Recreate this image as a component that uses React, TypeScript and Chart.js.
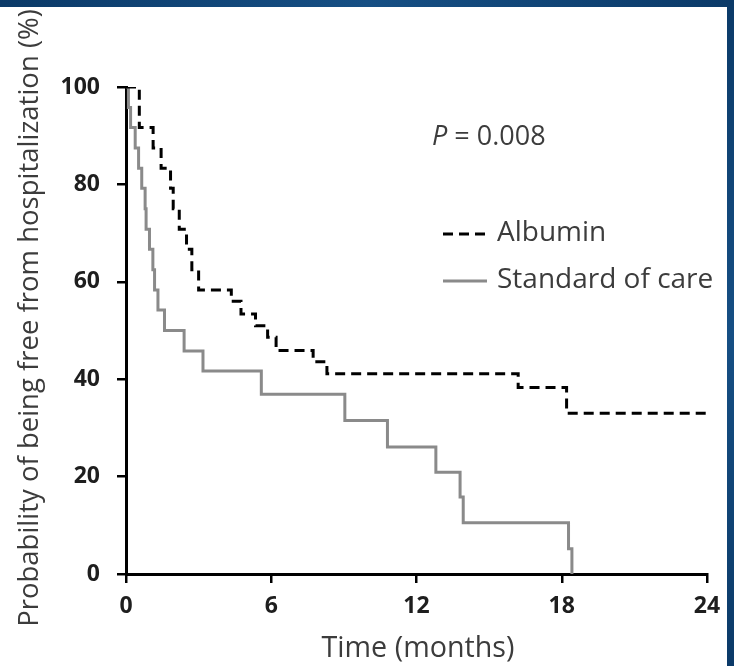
import React, { useEffect, useRef } from "react";
import { Chart, registerables } from "chart.js";

Chart.register(...registerables);

// ---- Data ----
const xTickValues = [0, 6, 12, 18, 24];
const yTickValues = [0, 20, 40, 60, 80, 100];

const albuminTimes = [0, 0.55, 1.12, 1.45, 1.84, 1.95, 2.2, 2.5, 2.72, 3.0, 4.35, 4.75, 5.35, 5.85, 6.2, 7.73, 8.3, 16.2, 18.2, 24];
const albuminSurvival = [100, 91.7, 87.5, 83.3, 79.2, 75, 70.8, 66.7, 62.5, 58.3, 56, 53.4, 51, 48.6, 45.9, 43.6, 41.1, 38.3, 33, 33];

const socTimes = [0, 0.1, 0.19, 0.38, 0.52, 0.65, 0.79, 0.83, 0.97, 1.11, 1.18, 1.32, 1.59, 2.4, 3.18, 5.59, 9.04, 10.8, 12.8, 13.8, 13.93, 18.28, 18.42];
const socSurvival = [100, 95.8, 91.7, 87.5, 83.3, 79.2, 75, 70.8, 66.7, 62.5, 58.3, 54.2, 50, 45.8, 41.7, 36.9, 31.5, 26.1, 20.9, 15.8, 10.5, 5.2, 0];

const seriesLabels = ["Albumin", "Standard of care"];
const pValueLabel = "P";
const pValueText = " = 0.008";
const xAxisTitle = "Time (months)";
const yAxisTitle = "Probability of being free from hospitalization (%)";

const FONT = "'Open Sans', 'Noto Sans', sans-serif";
const TEXT_COLOR = "#3c3c3c";
const ALBUMIN_COLOR = "#000000";
const SOC_COLOR = "#8a8a8a";
const ALBUMIN_DASH = [10, 6];

export default function App() {
  const canvasRef = useRef<HTMLCanvasElement | null>(null);

  useEffect(() => {
    const canvas = canvasRef.current;
    if (!canvas) return;

    const overlay = {
      id: "overlayText",
      afterDraw(chart: any) {
        const ctx = chart.ctx as CanvasRenderingContext2D;
        ctx.save();
        ctx.fillStyle = TEXT_COLOR;
        ctx.textBaseline = "middle";

        // y axis title
        ctx.save();
        ctx.translate(30, 318);
        ctx.rotate(-Math.PI / 2);
        ctx.textAlign = "center";
        ctx.font = `27.5px ${FONT}`;
        ctx.fillText(yAxisTitle, 0, 0);
        ctx.restore();

        // x axis title
        ctx.textAlign = "center";
        ctx.font = `28.7px ${FONT}`;
        ctx.fillText(xAxisTitle, 418, 649);

        // P value
        ctx.textAlign = "left";
        ctx.font = `italic 27px ${FONT}`;
        ctx.fillText(pValueLabel, 432, 137);
        const pw = ctx.measureText(pValueLabel).width;
        ctx.font = `27px ${FONT}`;
        ctx.fillText(pValueText, 432 + pw, 137);

        // legend
        const ds = chart.data.datasets;
        const rows = [234, 281];
        ds.forEach((d: any, i: number) => {
          const y = rows[i];
          ctx.save();
          ctx.strokeStyle = d.borderColor;
          ctx.lineWidth = d.borderWidth;
          ctx.setLineDash(d.borderDash || []);
          ctx.beginPath();
          ctx.moveTo(443, y);
          ctx.lineTo(487, y);
          ctx.stroke();
          ctx.restore();
          ctx.font = `28px ${FONT}`;
          ctx.fillStyle = TEXT_COLOR;
          ctx.textAlign = "left";
          ctx.fillText(d.label, 497, y - 1);
        });
        ctx.restore();
      },
    };

    const chart = new Chart(canvas, {
      type: "line",
      data: {
        datasets: [
          {
            label: seriesLabels[0],
            data: albuminTimes.map((t, i) => ({ x: t, y: albuminSurvival[i] })),
            borderColor: ALBUMIN_COLOR,
            borderWidth: 3,
            borderDash: ALBUMIN_DASH,
            stepped: "before",
            pointRadius: 0,
            fill: false,
          },
          {
            label: seriesLabels[1],
            data: socTimes.map((t, i) => ({ x: t, y: socSurvival[i] })),
            borderColor: SOC_COLOR,
            borderWidth: 3,
            stepped: "before",
            pointRadius: 0,
            fill: false,
          },
        ],
      },
      options: {
        responsive: false,
        animation: false,
        devicePixelRatio: 1,
        layout: { padding: { left: 0, top: 87, right: 27, bottom: 0 } },
        plugins: { legend: { display: false }, tooltip: { enabled: false } },
        scales: {
          x: {
            type: "linear",
            min: 0,
            max: 24,
            afterBuildTicks: (s: any) => {
              s.ticks = xTickValues.map((v) => ({ value: v }));
            },
            afterFit: (s: any) => {
              s.height = 92;
            },
            grid: { drawOnChartArea: false, drawTicks: true, tickLength: 9, color: "#000", lineWidth: 2.5 },
            border: { color: "#000", width: 3 },
            ticks: {
              font: { family: FONT, size: 23, weight: "bold" },
              color: "#1e1e1e",
              padding: 10,
              maxRotation: 0,
              autoSkip: false,
            },
          },
          y: {
            type: "linear",
            min: 0,
            max: 100,
            afterBuildTicks: (s: any) => {
              s.ticks = yTickValues.map((v) => ({ value: v }));
            },
            afterFit: (s: any) => {
              s.width = 126;
            },
            grid: { drawOnChartArea: false, drawTicks: true, tickLength: 9, color: "#000", lineWidth: 2.5 },
            border: { color: "#000", width: 3 },
            ticks: {
              font: { family: FONT, size: 23, weight: "bold" },
              color: "#1e1e1e",
              padding: 17,
              autoSkip: false,
            },
          },
        },
      },
      plugins: [overlay],
    } as any);

    return () => {
      chart.destroy();
    };
  }, []);

  return (
    <div style={{ position: "absolute", left: 0, top: 0, width: 734, height: 666, background: "#ffffff", overflow: "hidden" }}>
      <canvas ref={canvasRef} width={734} height={666} style={{ display: "block" }} />
      <div style={{ position: "absolute", left: 0, top: 0, width: 734, height: 7, background: "linear-gradient(90deg, #0b3a68, #164f84, #0b3a68)" }} />
      <div style={{ position: "absolute", right: 0, top: 0, width: 7, height: 666, background: "linear-gradient(180deg, #0b3a68, #164f84, #0b3a68)" }} />
    </div>
  );
}
